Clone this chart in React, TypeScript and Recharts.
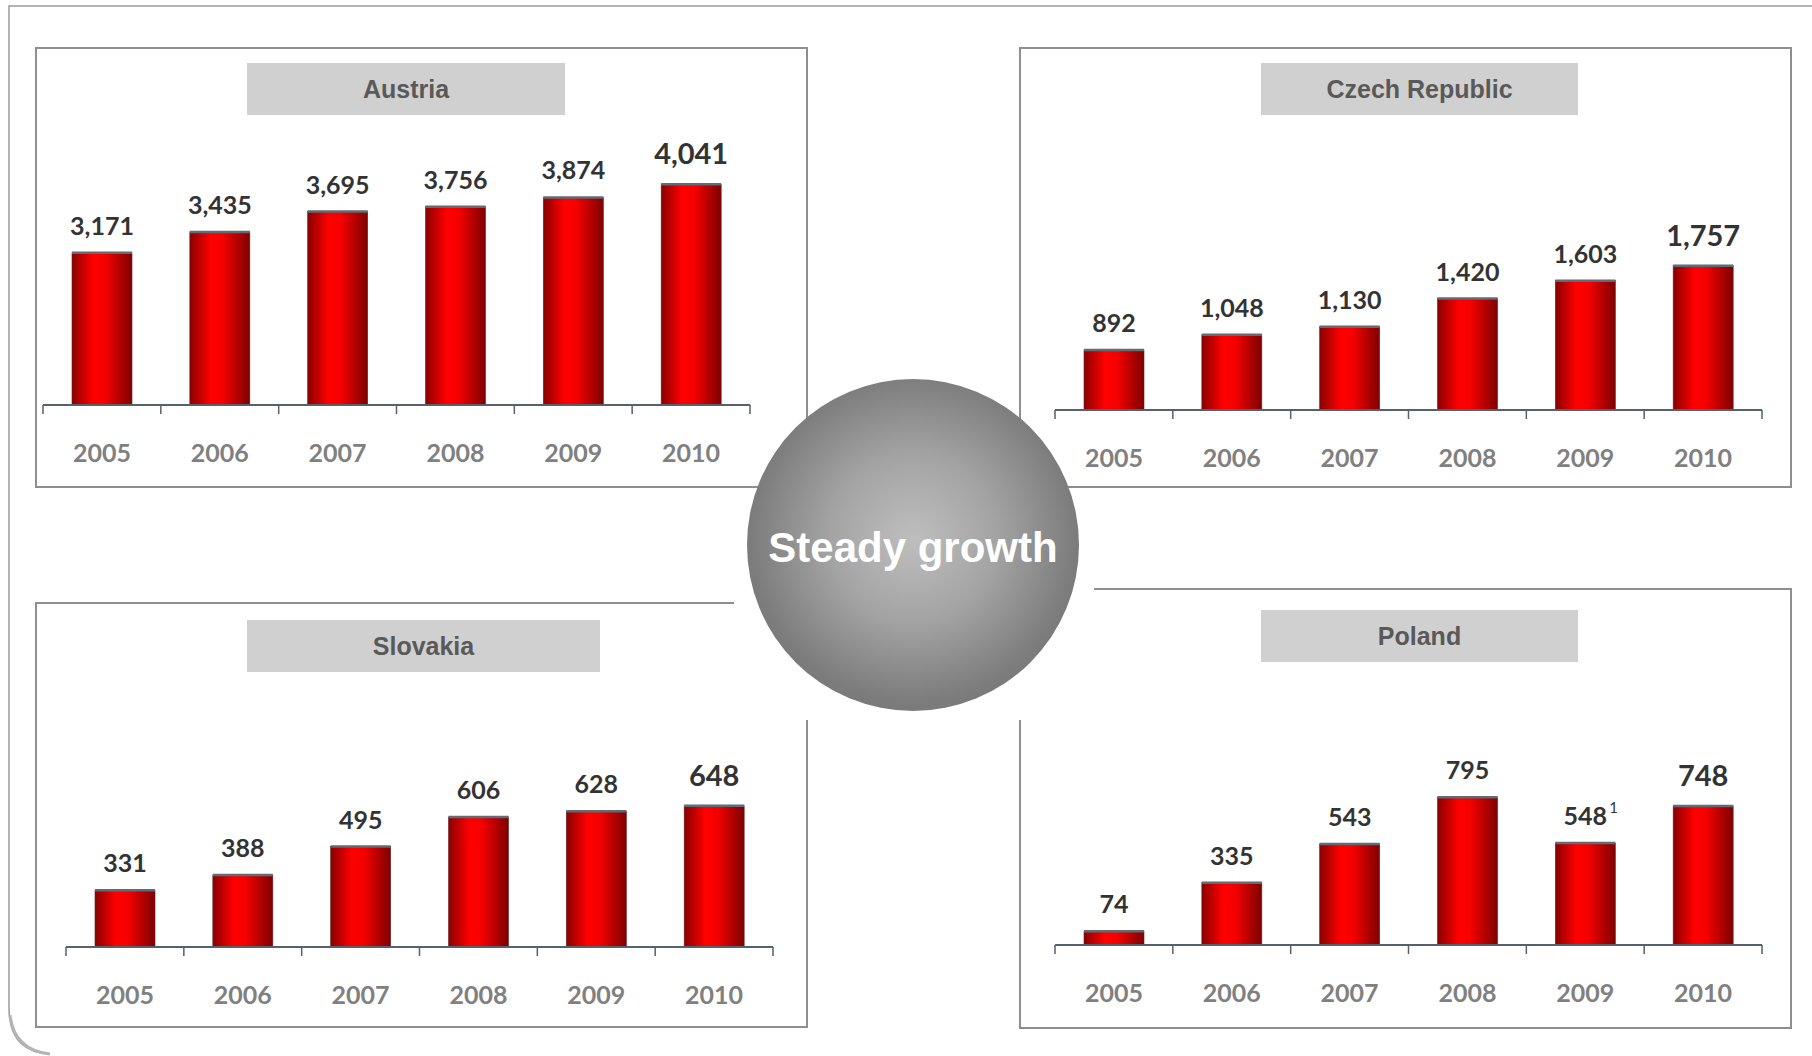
import React from "react";

import {
  BarChart,
  Bar,
  XAxis,
  YAxis,
  LabelList,
} from "recharts";

const years = ["2005", "2006", "2007", "2008", "2009", "2010"];

const austriaValues = [3171, 3435, 3695, 3756, 3874, 4041];
const czechValues = [892, 1048, 1130, 1420, 1603, 1757];
const slovakiaValues = [331, 388, 495, 606, 628, 648];
const polandValues = [74, 335, 543, 795, 548, 748];
const polandNotes = ["", "", "", "", "1", ""];

// value axis ranges (the slide charts do not start at zero)
const austriaRange = [1234, 4859];
const czechRange = [276, 3252];
const slovakiaRange = [118, 1083];
const polandRange = [0, 1371];

const axisColor = "#55616b";
const frameColor = "#8e8e8e";

function RedBar(props: any) {
  const { x, y, width, height, gid } = props;

  if (!height || height <= 0) return null;

  return (
    <g>
      <rect
        x={x}
        y={y}
        width={width}
        height={height}
        fill={`url(#${gid})`}
        stroke="#6a2020"
        strokeWidth={0.6}
      />
      <line
        x1={x}
        x2={x + width}
        y1={y}
        y2={y}
        stroke="#5f6b75"
        strokeWidth={2.5}
      />
    </g>
  );
}

function YearTick(props: any) {
  const { x, y, payload, index, band, count } = props;

  return (
    <g>
      <line
        x1={x - band / 2}
        x2={x - band / 2}
        y1={y}
        y2={y + 9}
        stroke={axisColor}
        strokeWidth={1.5}
      />
      {index === count - 1 && (
        <line
          x1={x + band / 2}
          x2={x + band / 2}
          y1={y}
          y2={y + 9}
          stroke={axisColor}
          strokeWidth={1.5}
        />
      )}
      <text
        x={x}
        y={y + 57}
        textAnchor="middle"
        fontFamily="Lato"
        fontWeight={700}
        fontSize={25}
        fill="#808080"
      >
        {payload.value}
      </text>
    </g>
  );
}

function ValueLabel(props: any) {
  const { value, index, notes, count } = props;
  const vb = props.viewBox || props;
  const x = vb.x ?? props.x;
  const y = vb.y ?? props.y;
  const w = vb.width ?? props.width;
  const isLast = index === count - 1;
  const note = notes ? notes[index] : "";
  const cx = x + w / 2;

  return (
    <g>
      <text
        x={cx}
        y={y - (isLast ? 20 : 18)}
        textAnchor="middle"
        fontFamily="Lato"
        fontWeight={700}
        fontSize={isLast ? 29 : 25}
        fill="#333333"
      >
        {Number(value).toLocaleString("en-US")}
      </text>
      {note && (
        <text
          x={cx + 24}
          y={y - 30}
          fontFamily="Lato"
          fontSize={15}
          fill="#333333"
        >
          {note}
        </text>
      )}
    </g>
  );
}

function CountryChart(props: any) {
  const { id, values, notes, range, left, top, width, plotHeight } = props;

  const data = years.map((year, i) => ({
    year,
    value: values[i],
  }));

  const band = width / years.length;

  return (
    <div style={{ position: "absolute", left: left - 2, top }}>
      <BarChart
        width={width + 4}
        height={plotHeight + 70}
        data={data}
        margin={{ top: 0, right: 2, left: 2, bottom: 0 }}
      >
        <defs>
          <linearGradient id={id} x1="0" y1="0" x2="1" y2="0">
            <stop offset="0%" stopColor="#8a0000" />
            <stop offset="35%" stopColor="#ff0000" />
            <stop offset="55%" stopColor="#f60000" />
            <stop offset="100%" stopColor="#7e0000" />
          </linearGradient>
        </defs>

        <XAxis
          dataKey="year"
          height={70}
          interval={0}
          axisLine={{ stroke: axisColor, strokeWidth: 2 }}
          tickLine={false}
          tickSize={0}
          tickMargin={0}
          tick={<YearTick band={band} count={years.length} />}
        />

        <YAxis hide type="number" domain={range} allowDataOverflow />

        <Bar
          dataKey="value"
          barSize={60}
          isAnimationActive={false}
          shape={<RedBar gid={id} />}
        >
          <LabelList
            dataKey="value"
            content={<ValueLabel notes={notes} count={years.length} />}
          />
        </Bar>
      </BarChart>
    </div>
  );
}

function TitleBox(props: any) {
  const { text, left, top, width, height } = props;

  return (
    <div
      style={{
        position: "absolute",
        left,
        top,
        width,
        height,
        background: "#d0d0d0",
        color: "#595959",
        fontFamily: "'Liberation Sans', Arial, sans-serif",
        fontWeight: 700,
        fontSize: 25,
        display: "flex",
        alignItems: "center",
        justifyContent: "center",
      }}
    >
      {text}
    </div>
  );
}

export default function App() {
  return (
    <div
      style={{
        position: "absolute",
        left: 0,
        top: 0,
        width: 1812,
        height: 1056,
        background: "#ffffff",
        overflow: "hidden",
      }}
    >
      <svg
        width={1812}
        height={1056}
        style={{ position: "absolute", left: 0, top: 0 }}
      >
        <path
          d="M 1812 6 H 9 V 1008 Q 9 1052 50 1054"
          fill="none"
          stroke="#9a9a9a"
          strokeWidth={1.5}
        />
        <path
          d="M 10 1015 Q 14 1050 50 1054"
          fill="none"
          stroke="#b5b5b5"
          strokeWidth={3}
        />
        <rect x={36} y={48} width={771} height={439} fill="none" stroke={frameColor} strokeWidth={2} />
        <rect x={1020} y={48} width={771} height={439} fill="none" stroke={frameColor} strokeWidth={2} />
        <path d="M 734 603 H 36 V 1027 H 807 V 720" fill="none" stroke={frameColor} strokeWidth={2} />
        <path d="M 1094 589 H 1791 V 1028 H 1020 V 720" fill="none" stroke={frameColor} strokeWidth={2} />
      </svg>

      <TitleBox text="Austria" left={247} top={63} width={318} height={52} />
      <TitleBox text="Czech Republic" left={1261} top={63} width={317} height={52} />
      <TitleBox text="Slovakia" left={247} top={620} width={353} height={52} />
      <TitleBox text="Poland" left={1261} top={610} width={317} height={52} />

      <CountryChart
        id="gradAustria"
        values={austriaValues}
        range={austriaRange}
        left={43}
        top={120}
        width={707}
        plotHeight={285}
      />
      <CountryChart
        id="gradCzech"
        values={czechValues}
        range={czechRange}
        left={1055}
        top={120}
        width={707}
        plotHeight={290}
      />
      <CountryChart
        id="gradSlovakia"
        values={slovakiaValues}
        range={slovakiaRange}
        left={66}
        top={690}
        width={707}
        plotHeight={257}
      />
      <CountryChart
        id="gradPoland"
        values={polandValues}
        notes={polandNotes}
        range={polandRange}
        left={1055}
        top={690}
        width={707}
        plotHeight={255}
      />

      <div
        style={{
          position: "absolute",
          left: 747,
          top: 379,
          width: 332,
          height: 332,
          boxSizing: "border-box",
          paddingTop: 6,
          borderRadius: "50%",
          background:
            "radial-gradient(circle at 50% 48%, #bebebe 0%, #a3a3a3 35%, #7c7c7c 68%, #6f6f6f 100%)",
          display: "flex",
          alignItems: "center",
          justifyContent: "center",
          color: "#ffffff",
          fontFamily: "'Liberation Sans', Arial, sans-serif",
          fontWeight: 700,
          fontSize: 42,
          whiteSpace: "nowrap",
        }}
      >
        Steady growth
      </div>
    </div>
  );
}
